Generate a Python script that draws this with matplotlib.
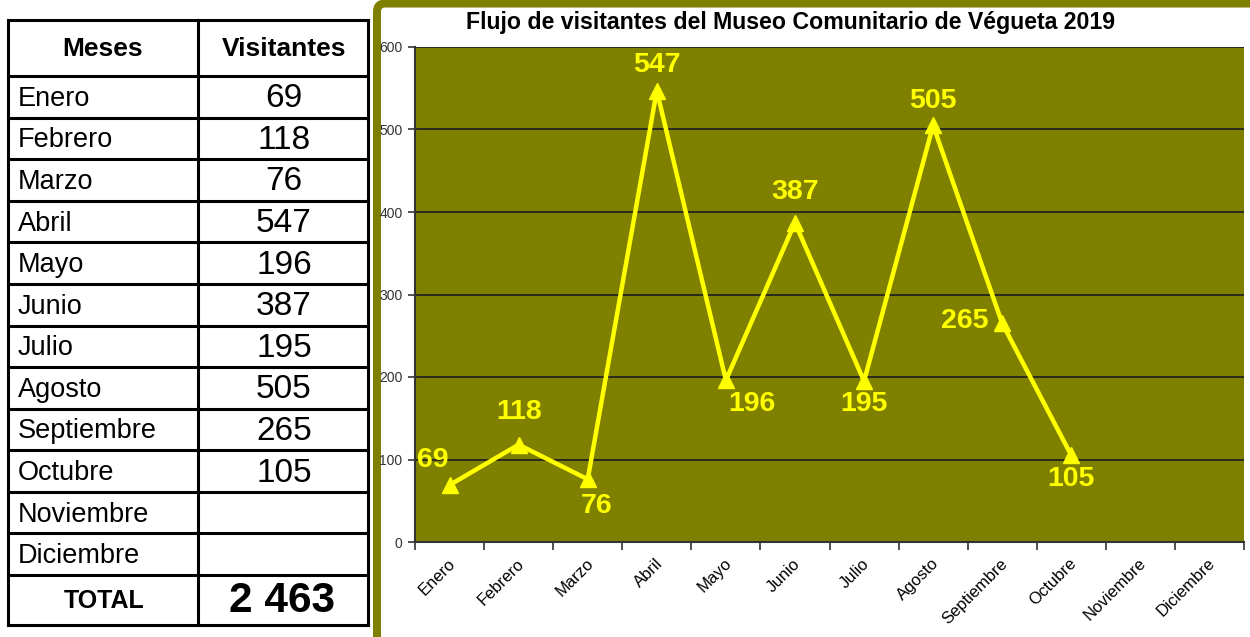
import numpy as np
import matplotlib.pyplot as plt
from matplotlib.patches import FancyBboxPatch

# Data
meses = ['Enero', 'Febrero', 'Marzo', 'Abril', 'Mayo', 'Junio', 'Julio',
         'Agosto', 'Septiembre', 'Octubre', 'Noviembre', 'Diciembre']
visitantes = [69, 118, 76, 547, 196, 387, 195, 505, 265, 105, None, None]
titulo = 'Flujo de visitantes del Museo Comunitario de Végueta 2019'

# label offsets in pixels (dx, dy) for each data label
offsets = [(-17, 25), (0, 33), (9, -27), (0, 26), (26, -24),
           (0, 31), (0, -23), (0, 24), (-37, 2), (0, -24)]

OLIVE = '#808000'
YELLOW = '#FFFF00'
arial = ['Liberation Sans', 'DejaVu Sans']

W, H = 1250, 637
fig = plt.figure(figsize=(W / 100, H / 100), dpi=100)

# background axes in pixel coordinates (table + frame)
bg = fig.add_axes([0, 0, 1, 1], zorder=0)
bg.set_xlim(0, W)
bg.set_ylim(H, 0)
bg.axis('off')

# olive frame of the chart panel
frame = FancyBboxPatch((377, 3.5), 1000, 1000, boxstyle='round,pad=0,rounding_size=8',
                       facecolor='white', edgecolor=OLIVE, linewidth=5.8, clip_on=False)
bg.add_patch(frame)

# table
x0, xm, x1 = 8, 198, 368
top, head_bot, rows_bot, bot = 20, 76, 575, 625
row_h = (rows_bot - head_bot) / len(meses)
lw = 2.2
for y in [top, head_bot] + [head_bot + row_h * i for i in range(1, len(meses))] + [rows_bot, bot]:
    bg.plot([x0, x1], [y, y], color='black', lw=lw, solid_capstyle='projecting')
for x in [x0, xm, x1]:
    bg.plot([x, x], [top, bot], color='black', lw=lw, solid_capstyle='projecting')

bg.text((x0 + xm) / 2, (top + head_bot) / 2 + 1, 'Meses', ha='center', va='center',
        fontsize=19, fontweight='bold', family=arial)
bg.text((xm + x1) / 2 + 1, (top + head_bot) / 2 + 1, 'Visitantes', ha='center', va='center',
        fontsize=19, fontweight='bold', family=arial)
for i, (m, v) in enumerate(zip(meses, visitantes)):
    yc = head_bot + row_h * (i + 0.5) + 2
    bg.text(x0 + 10, yc, m, ha='left', va='center', fontsize=19.5, family=arial)
    if v is not None:
        bg.text((xm + x1) / 2 + 1, yc, str(v), ha='center', va='center',
                fontsize=24, family=arial)

total = sum(v for v in visitantes if v is not None)
total_txt = f'{total:,}'.replace(',', ' ')
bg.text((x0 + xm) / 2 + 1, (rows_bot + bot) / 2 + 1, 'TOTAL', ha='center', va='center',
        fontsize=18, fontweight='bold', family=arial)
bg.text((xm + x1) / 2 - 1, (rows_bot + bot) / 2 + 1, total_txt, ha='center', va='center',
        fontsize=30.5, fontweight='bold', family=arial)

# chart
ax = fig.add_axes([415 / W, (H - 542) / H, (1244 - 415) / W, (542 - 47) / H], zorder=2)
ax.set_facecolor(OLIVE)
x = np.arange(len(meses))
xs = [i for i, v in enumerate(visitantes) if v is not None]
ys = [v for v in visitantes if v is not None]
ax.plot(xs, ys, color=YELLOW, lw=3.2, marker='^', markersize=12, zorder=3)

for (xi, yi), (dx, dy) in zip(zip(xs, ys), offsets):
    ax.annotate(str(yi), (xi, yi), xytext=(dx, dy), textcoords='offset pixels',
                ha='center', va='center', color=YELLOW, fontsize=20.5,
                fontweight='bold', family=arial, zorder=4)

ax.set_xlim(-0.5, len(meses) - 0.5)
ax.set_ylim(0, 600)
ax.set_yticks(range(0, 601, 100))
ax.set_xticks(np.arange(len(meses) + 1) - 0.5)
ax.set_xticklabels([])
ax.set_xticks(x - 0.03, minor=True)
ax.set_xticklabels(meses, minor=True, rotation=45, ha='right', va='top',
                   rotation_mode='anchor', fontsize=12, family=arial)
ax.tick_params(axis='x', which='minor', length=0, pad=10)
ax.tick_params(axis='x', which='major', length=6, width=1.2, color='#333333')
ax.tick_params(axis='y', length=5, width=1.2, color='#333333', labelsize=10,
               labelcolor='#333333', pad=4)
for lab in ax.get_yticklabels():
    lab.set_family(arial)
ax.grid(axis='y', color='#222222', lw=1.3)
ax.set_axisbelow(True)
for s in ['top', 'right']:
    ax.spines[s].set_visible(False)
ax.spines['left'].set_color('#333333')
ax.spines['left'].set_linewidth(1.5)
ax.spines['bottom'].set_color('#333333')
ax.spines['bottom'].set_linewidth(1.5)

fig.text(790 / W, 1 - 23 / H, titulo, ha='center', va='center', fontsize=16.7,
         fontweight='bold', family=arial)

fig.savefig('out.png', dpi=100)
